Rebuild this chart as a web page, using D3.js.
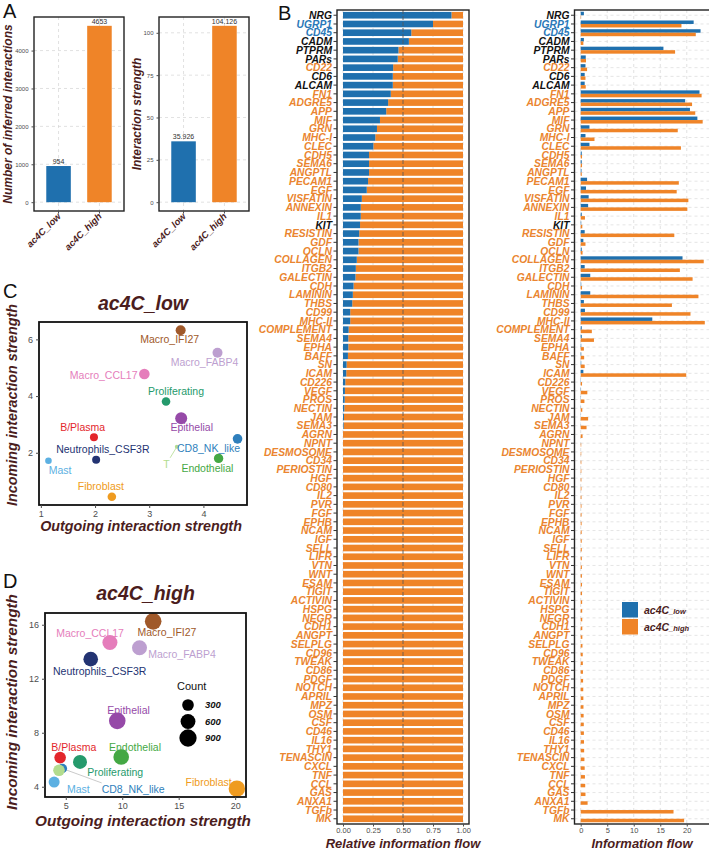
<!DOCTYPE html>
<html>
<head>
<meta charset="utf-8">
<script src="https://cdn.jsdelivr.net/npm/d3@7"></script>
<style>
  body { margin: 0; background: #fff; }
  text { font-family: "Liberation Sans", Arial, sans-serif; }
</style>
</head>
<body>
<svg id="fig" width="709" height="853"></svg>
<script>
//==============================
// DATA
//==============================
const groups = ["ac4C_low", "ac4C_high"];
const interactionCount = [954, 4653];
const interactionStrength = [35.926, 104.126];
const countTicks = [0, 1000, 2000, 3000, 4000];
const strengthTicks = [0, 25, 50, 75, 100];

// cell types for the signaling role scatter plots (C, D)
const cellTypes = ["Macro_IFI27", "Macro_FABP4", "Macro_CCL17", "Proliferating", "Epithelial", "B/Plasma",
  "Neutrophils_CSF3R", "CD8_NK_like", "Mast", "T", "Endothelial", "Fibroblast"];
const cellColors = ["#a0592a", "#bd9fd0", "#e57dbb", "#259a6c", "#964aa8", "#e3262b",
  "#233372", "#2f7fbc", "#5cb0e2", "#b2dc8e", "#44a844", "#ef9b20"];
const lowOutgoing = [3.58, 4.26, 2.91, 3.31, 3.59, 1.98, 2.02, 4.63, 1.14, 3.51, 4.28, 2.31];
const lowIncoming = [6.32, 5.53, 4.78, 3.81, 3.22, 2.55, 1.75, 2.49, 1.72, 2.21, 1.80, 0.45];
const lowCount = [121, 121, 143, 77, 200, 62, 62, 108, 32, 3, 101, 77];
const highOutgoing = [12.74, 11.53, 8.91, 6.26, 9.56, 4.50, 7.21, 4.70, 3.97, 4.40, 9.91, 20.15];
const highIncoming = [16.25, 14.29, 14.68, 5.84, 8.88, 6.16, 13.45, 5.35, 4.35, 5.22, 6.20, 3.86];
const highCount = [810, 615, 620, 510, 805, 295, 575, 150, 250, 295, 690, 785];
const countLegend = [300, 600, 900];
const lowXTicks = [1, 2, 3, 4], lowYTicks = [2, 4, 6];
const highXTicks = [5, 10, 15, 20], highYTicks = [4, 8, 12, 16];

// signaling pathways (B), top to bottom
const pathways = ["NRG", "UGRP1", "CD45", "CADM", "PTPRM", "PARs", "CD22", "CD6", "ALCAM", "FN1",
  "ADGRE5", "APP", "MIF", "GRN", "MHC-I", "CLEC", "CDH5", "SEMA6", "ANGPTL", "PECAM1",
  "EGF", "VISFATIN", "ANNEXIN", "IL1", "KIT", "RESISTIN", "GDF", "OCLN", "COLLAGEN", "ITGB2",
  "GALECTIN", "CDH", "LAMININ", "THBS", "CD99", "MHC-II", "COMPLEMENT", "SEMA4", "EPHA", "BAFF",
  "SN", "ICAM", "CD226", "VEGF", "PROS", "NECTIN", "JAM", "SEMA3", "AGRN", "NPNT",
  "DESMOSOME", "CD34", "PERIOSTIN", "HGF", "CD80", "IL2", "PVR", "FGF", "EPHB", "NCAM",
  "IGF", "SELL", "LIFR", "VTN", "WNT", "ESAM", "TIGIT", "ACTIVIN", "HSPG", "NEGR",
  "CDH1", "ANGPT", "SELPLG", "CD96", "TWEAK", "CD86", "PDGF", "NOTCH", "APRIL", "MPZ",
  "OSM", "CSF", "CD46", "IL16", "THY1", "TENASCIN", "CXCL", "TNF", "CCL", "GAS",
  "ANXA1", "TGFb", "MK"];
// relative information flow of ac4C_low (rest is ac4C_high)
const relFlowLow = [0.904, 0.75, 0.569, 0.549, 0.462, 0.456, 0.418, 0.415, 0.415, 0.398,
  0.376, 0.36, 0.308, 0.283, 0.269, 0.253, 0.217, 0.217, 0.217, 0.209,
  0.198, 0.157, 0.148, 0.148, 0.142, 0.135, 0.129, 0.129, 0.115, 0.107,
  0.104, 0.088, 0.082, 0.077, 0.06, 0.06, 0.047, 0.044, 0.044, 0.041,
  0.03, 0.027, 0.019, 0.016, 0.014, 0.011, 0.008, 0.005, 0, 0,
  0, 0, 0, 0, 0, 0, 0, 0, 0, 0,
  0, 0, 0, 0, 0, 0, 0, 0, 0, 0,
  0, 0, 0, 0, 0, 0, 0, 0, 0, 0,
  0, 0, 0, 0, 0, 0, 0, 0, 0, 0,
  0, 0, 0];
const flowLow = [0.6, 21.3, 22.6, 0.6, 15.6, 0.95, 0.9, 0.75, 0.75, 22.4,
  19.7, 20.6, 22.0, 1.65, 0.9, 1.65, 0.2, 0.2, 0.15, 1.2,
  1.0, 1.5, 1.4, 0.2, 0.1, 0.75, 0.5, 0.2, 19.2, 0.75,
  1.8, 0.1, 1.8, 0.6, 0.8, 13.5, 0.2, 0.2, 0.1, 0.1,
  0.1, 0.5, 0.05, 0.05, 0.05, 0.03, 0.03, 0.02, 0, 0,
  0, 0, 0, 0, 0, 0, 0, 0, 0, 0,
  0, 0, 0, 0, 0, 0, 0, 0, 0, 0,
  0, 0, 0, 0, 0, 0, 0, 0, 0, 0,
  0, 0, 0, 0, 0, 0, 0, 0, 0, 0,
  0, 0, 0];
const flowHigh = [0.07, 19.0, 21.7, 0.5, 17.8, 1.0, 1.2, 0.9, 0.95, 22.8,
  21.0, 21.6, 23.0, 18.3, 2.6, 18.9, 0.25, 0.25, 0.2, 18.5,
  18.1, 20.3, 20.1, 0.8, 0.3, 17.65, 0.9, 0.35, 23.2, 18.7,
  21.1, 0.25, 22.2, 17.2, 20.7, 23.4, 2.1, 2.5, 0.6, 0.65,
  0.75, 19.9, 0.25, 1.25, 0.7, 0.3, 1.4, 1.1, 0.35, 0.1,
  0.1, 0.12, 0.12, 0.13, 0.14, 0.15, 0.15, 0.16, 0.17, 0.18,
  0.19, 0.2, 0.21, 0.22, 0.23, 0.24, 0.25, 0.27, 0.28, 0.29,
  0.3, 0.31, 0.33, 0.38, 0.4, 0.42, 0.45, 0.48, 0.5, 0.52,
  0.55, 0.58, 0.6, 0.62, 0.65, 0.7, 0.75, 0.8, 0.85, 0.9,
  1.3, 17.5, 19.5];
const relTicks = [0, 0.25, 0.5, 0.75, 1];
const flowTicks = [0, 5, 10, 15, 20];
const enrichedLow = ["UGRP1", "CD45"];
const notSignificant = ["NRG", "CADM", "PTPRM", "PARs", "CD6", "ALCAM", "KIT"];

//==============================
// STYLE / LAYOUT
//==============================
const titleColor = "#4b1d1d";
const tickColor = "#4d4d4d";
const gridColor = "#d4d4d4";
const lowColor = "#1f70ae", highColor = "#ef8428";
const lowLabelColor = "#2a78b8", highLabelColor = "#ea8530";

// ggrepel-like label shifts [dx, dy] from each point (center x, baseline y)
const labelShiftLow = [[-11, 13], [-13, 13.3], [-40.7, 5], [10, -6.3], [10.5, 13], [-11.3, -6],
  [6.7, -7.3], [-29, 13.3], [11.7, 13.7], [-10.5, 21], [-11.2, 13.3], [-11, -6.7]];
const labelShiftHigh = [[13.8, 15], [42.5, 10.3], [-19.8, -5.4], [35.2, 13.6], [11.3, -6.4], [13.7, -6.3],
  [9, 15.7], [70.8, 24.4], [24.2, 11], null, [13.8, -6], [-28.2, -3]];

const svg = d3.select("#fig");

const panelLetter = (t, x, y) => {
  svg.append("text").attr("x", x).attr("y", y)
    .style("font-size", "20px").attr("fill", "#111").text(t);
};

const boldItalic = (sel, size, color) =>
  sel.style("font-size", size + "px").style("font-weight", "bold")
    .style("font-style", "italic").attr("fill", color);

//==============================
// A : summary bars
//==============================
const summaryBar = (values, ticks, box, yTitle, titleX) => {
  const g = svg.append("g");
  const x = d3.scalePoint().domain(groups).range([box.left, box.right]).padding(0.6);
  const vmax = d3.max(values);
  const y = d3.scaleLinear().domain([-0.05 * vmax, 1.05 * vmax]).range([box.bottom, box.top]);
  const bw = x.step() * 0.6;

  // dashed grid
  g.selectAll("line.hg").data(ticks).join("line").attr("class", "hg")
    .attr("x1", box.left).attr("x2", box.right)
    .attr("y1", d => y(d)).attr("y2", d => y(d))
    .attr("stroke", gridColor).attr("stroke-width", 0.7).attr("stroke-dasharray", "3,3");
  g.selectAll("line.vg").data(groups).join("line").attr("class", "vg")
    .attr("x1", d => x(d)).attr("x2", d => x(d))
    .attr("y1", box.top).attr("y2", box.bottom)
    .attr("stroke", gridColor).attr("stroke-width", 0.7).attr("stroke-dasharray", "3,3");

  g.selectAll("rect.bar").data(values).join("rect").attr("class", "bar")
    .attr("x", (d, i) => x(groups[i]) - bw / 2).attr("width", bw)
    .attr("y", d => y(d)).attr("height", d => y(0) - y(d))
    .attr("fill", (d, i) => i === 0 ? lowColor : highColor);

  g.selectAll("text.val").data(values).join("text").attr("class", "val")
    .attr("x", (d, i) => x(groups[i])).attr("y", d => y(d) - 2)
    .attr("text-anchor", "middle").style("font-size", "7px").attr("fill", "#333")
    .text(d => String(d));

  g.append("rect").attr("x", box.left).attr("y", box.top)
    .attr("width", box.right - box.left).attr("height", box.bottom - box.top)
    .attr("fill", "none").attr("stroke", "#222").attr("stroke-width", 1.4);

  const ay = g.append("g").attr("transform", `translate(${box.left},0)`)
    .call(d3.axisLeft(y).tickValues(ticks).tickFormat(d3.format("d")).tickSize(2.5).tickSizeOuter(0));
  ay.select(".domain").remove();
  ay.selectAll("line").attr("stroke", tickColor);
  ay.selectAll("text").style("font-size", "6px").attr("fill", tickColor);

  // rotated group labels
  groups.forEach(gr => {
    g.append("line").attr("x1", x(gr)).attr("x2", x(gr))
      .attr("y1", box.bottom).attr("y2", box.bottom + 2.5).attr("stroke", tickColor);
    boldItalic(g.append("text"), 9.5, titleColor)
      .attr("text-anchor", "end")
      .attr("transform", `translate(${x(gr) + 3},${box.bottom + 6}) rotate(-45)`)
      .text(gr);
  });

  boldItalic(g.append("text"), 12, titleColor)
    .attr("text-anchor", "middle")
    .attr("transform", `translate(${titleX},${(box.top + box.bottom) / 2}) rotate(-90)`)
    .text(yTitle);
};

//==============================
// C, D : signaling role scatter
//==============================
const expandExtent = arr => {
  const [lo, hi] = d3.extent(arr);
  const e = (hi - lo) * 0.05;
  return [lo - e, hi + e];
};

const scatterPanel = (o) => {
  const g = svg.append("g");
  const x = d3.scaleLinear().domain(expandExtent(o.out)).range([o.box.left, o.box.right]);
  const y = d3.scaleLinear().domain(expandExtent(o.inc)).range([o.box.bottom, o.box.top]);

  const pts = cellTypes.map((c, i) => ({
    name: c, color: cellColors[i], px: x(o.out[i]), py: y(o.inc[i]),
    r: o.rScale(o.count[i]), shift: o.shift[i]
  }));

  g.selectAll("circle.pt").data(pts).join("circle").attr("class", "pt")
    .attr("cx", d => d.px).attr("cy", d => d.py).attr("r", d => d.r)
    .attr("fill", d => d.color);

  pts.forEach(d => {
    if (!d.shift) return;
    const t = g.append("text")
      .attr("x", d.px + d.shift[0]).attr("y", d.py + d.shift[1])
      .attr("text-anchor", "middle").style("font-size", "10.5px")
      .attr("fill", d.color).text(d.name);
    if (o.segments.includes(d.name)) {
      const b = t.node().getBBox();
      const cx = Math.max(b.x, Math.min(d.px, b.x + b.width));
      const cy = Math.max(b.y, Math.min(d.py, b.y + b.height));
      const seg = o.segColor || d.color;
      g.insert("line", "circle").attr("x1", d.px).attr("y1", d.py).attr("x2", cx).attr("y2", cy)
        .attr("stroke", seg).attr("stroke-width", 0.8);
    }
  });

  g.append("rect").attr("x", o.box.left).attr("y", o.box.top)
    .attr("width", o.box.right - o.box.left).attr("height", o.box.bottom - o.box.top)
    .attr("fill", "none").attr("stroke", "#111").attr("stroke-width", 1.8);

  const ax = g.append("g").attr("transform", `translate(0,${o.box.bottom})`)
    .call(d3.axisBottom(x).tickValues(o.xTicks).tickFormat(d3.format("d")).tickSize(3).tickSizeOuter(0));
  const ay = g.append("g").attr("transform", `translate(${o.box.left},0)`)
    .call(d3.axisLeft(y).tickValues(o.yTicks).tickFormat(d3.format("d")).tickSize(3).tickSizeOuter(0));
  [ax, ay].forEach(a => {
    a.select(".domain").remove();
    a.selectAll("line").attr("stroke", tickColor);
    a.selectAll("text").style("font-size", "9px").attr("fill", tickColor);
  });

  boldItalic(g.append("text"), 19.5, titleColor)
    .attr("x", (o.box.left + o.box.right) / 2).attr("y", o.titleY)
    .attr("text-anchor", "middle").text(o.title);
  boldItalic(g.append("text"), o.axisFont, titleColor)
    .attr("x", o.xTitle[0]).attr("y", o.xTitle[1])
    .attr("text-anchor", "middle").text("Outgoing interaction strength");
  boldItalic(g.append("text"), o.axisFont, titleColor)
    .attr("text-anchor", "middle")
    .attr("transform", `translate(${o.yTitle[0]},${o.yTitle[1]}) rotate(-90)`)
    .text("Incoming interaction strength");
  return g;
};

//==============================
// B : information flow
//==============================
const labelColor = p => enrichedLow.includes(p) ? lowLabelColor
  : (notSignificant.includes(p) ? "#111" : highLabelColor);

const pathwayAxis = (g, yB, left) => {
  pathways.forEach(p => {
    g.append("line").attr("x1", left - 3.5).attr("x2", left)
      .attr("y1", yB(p)).attr("y2", yB(p)).attr("stroke", "#333");
  });
  g.selectAll("text.pw").data(pathways).join("text").attr("class", "pw")
    .attr("x", left - 5).attr("y", d => yB(d)).attr("dy", "0.36em")
    .attr("text-anchor", "end")
    .style("font-size", "10.3px").style("font-weight", "bold").style("font-style", "italic")
    .attr("fill", d => labelColor(d))
    .text(d => d);
};

const drawFlow = () => {
  const top = 10, bottom = 824;
  const yB = d3.scalePoint().domain(pathways).range([top, bottom]).padding(0.6);
  const step = yB.step();

  // ---- relative information flow ----
  const gl = svg.append("g");
  const boxL = { left: 337, right: 469 };
  const xRel = d3.scaleLinear().domain([-0.05, 1.05]).range([boxL.left, boxL.right]);
  gl.selectAll("line.vg").data(relTicks).join("line").attr("class", "vg")
    .attr("x1", d => xRel(d)).attr("x2", d => xRel(d)).attr("y1", top).attr("y2", bottom)
    .attr("stroke", gridColor).attr("stroke-width", 0.7).attr("stroke-dasharray", "3,3");
  const bh = step * 0.76;
  gl.selectAll("rect.hi").data(pathways).join("rect").attr("class", "hi")
    .attr("x", (d, i) => xRel(relFlowLow[i])).attr("width", (d, i) => xRel(1) - xRel(relFlowLow[i]))
    .attr("y", d => yB(d) - bh / 2).attr("height", bh).attr("fill", highColor);
  gl.selectAll("rect.lo").data(pathways).join("rect").attr("class", "lo")
    .attr("x", xRel(0)).attr("width", (d, i) => xRel(relFlowLow[i]) - xRel(0))
    .attr("y", d => yB(d) - bh / 2).attr("height", bh).attr("fill", lowColor);
  gl.append("line").attr("x1", xRel(0.5)).attr("x2", xRel(0.5)).attr("y1", top).attr("y2", bottom)
    .attr("stroke", "#555").attr("stroke-width", 0.8).attr("stroke-dasharray", "4,2");
  gl.append("rect").attr("x", boxL.left).attr("y", top)
    .attr("width", boxL.right - boxL.left).attr("height", bottom - top)
    .attr("fill", "none").attr("stroke", "#222").attr("stroke-width", 1.4);
  pathwayAxis(gl, yB, boxL.left);
  const axL = gl.append("g").attr("transform", `translate(0,${bottom})`)
    .call(d3.axisBottom(xRel).tickValues(relTicks).tickFormat(d3.format(".2f"))
      .tickSize(2.5).tickPadding(1.5).tickSizeOuter(0));
  axL.select(".domain").remove();
  axL.selectAll("line").attr("stroke", tickColor);
  axL.selectAll("text").style("font-size", "7.5px").attr("fill", tickColor);
  boldItalic(gl.append("text"), 13, titleColor)
    .attr("x", (boxL.left + boxL.right) / 2).attr("y", 848)
    .attr("text-anchor", "middle").text("Relative information flow");

  // ---- absolute information flow ----
  const gr = svg.append("g");
  const boxR = { left: 574.5, right: 711 };
  const fmax = d3.max(flowLow.concat(flowHigh));
  const xFlow = d3.scaleLinear().domain([-0.05 * fmax, 1.05 * fmax]).range([boxR.left, boxR.right]);
  gr.selectAll("line.hg").data(pathways).join("line").attr("class", "hg")
    .attr("x1", boxR.left).attr("x2", boxR.right).attr("y1", d => yB(d)).attr("y2", d => yB(d))
    .attr("stroke", gridColor).attr("stroke-width", 0.6).attr("stroke-dasharray", "3,3");
  gr.selectAll("line.vg").data(flowTicks).join("line").attr("class", "vg")
    .attr("x1", d => xFlow(d)).attr("x2", d => xFlow(d)).attr("y1", top).attr("y2", bottom)
    .attr("stroke", gridColor).attr("stroke-width", 0.7).attr("stroke-dasharray", "3,3");
  const dh = step * 0.4;
  gr.selectAll("rect.lo").data(pathways).join("rect").attr("class", "lo")
    .attr("x", xFlow(0)).attr("width", (d, i) => xFlow(flowLow[i]) - xFlow(0))
    .attr("y", d => yB(d) - dh).attr("height", dh).attr("fill", lowColor);
  gr.selectAll("rect.hi").data(pathways).join("rect").attr("class", "hi")
    .attr("x", xFlow(0)).attr("width", (d, i) => xFlow(flowHigh[i]) - xFlow(0))
    .attr("y", d => yB(d)).attr("height", dh).attr("fill", highColor);
  gr.append("rect").attr("x", boxR.left).attr("y", top)
    .attr("width", boxR.right - boxR.left).attr("height", bottom - top)
    .attr("fill", "none").attr("stroke", "#222").attr("stroke-width", 1.4);
  pathwayAxis(gr, yB, boxR.left);
  const axR = gr.append("g").attr("transform", `translate(0,${bottom})`)
    .call(d3.axisBottom(xFlow).tickValues(flowTicks).tickFormat(d3.format("d"))
      .tickSize(2.5).tickPadding(1.5).tickSizeOuter(0));
  axR.select(".domain").remove();
  axR.selectAll("line").attr("stroke", tickColor);
  axR.selectAll("text").style("font-size", "7.5px").attr("fill", tickColor);
  boldItalic(gr.append("text"), 13, titleColor)
    .attr("x", 642).attr("y", 848)
    .attr("text-anchor", "middle").text("Information flow");

  // legend
  const lg = gr.append("g").attr("transform", "translate(622,602)");
  groups.forEach((grp, i) => {
    lg.append("rect").attr("x", 0).attr("y", i * 17).attr("width", 16).attr("height", 15.5)
      .attr("fill", i === 0 ? lowColor : highColor);
    const t = boldItalic(lg.append("text"), 10.5, titleColor).attr("x", 22).attr("y", i * 17 + 12);
    const parts = grp.split("_");
    t.append("tspan").text(parts[0]);
    t.append("tspan").style("font-size", "7.5px").text("_" + parts[1]);
  });
};

//==============================
// DRAW
//==============================
panelLetter("A", 3, 18);
summaryBar(interactionCount, countTicks, { left: 34, right: 124, top: 17, bottom: 211 },
  "Number of inferred interactions", 12);
summaryBar(interactionStrength, strengthTicks, { left: 159, right: 249, top: 17, bottom: 211 },
  "Interaction strength", 141);

panelLetter("C", 3, 298);
scatterPanel({
  box: { left: 39, right: 247, top: 322, bottom: 505 },
  out: lowOutgoing, inc: lowIncoming, count: lowCount,
  rScale: d3.scaleSqrt().domain([0, 200]).range([1.5, 6]),
  shift: labelShiftLow, segments: ["T"],
  xTicks: lowXTicks, yTicks: lowYTicks,
  title: "ac4C_low", titleY: 310, axisFont: 14.3,
  xTitle: [141, 531], yTitle: [17, 405]
});

panelLetter("D", 3, 588);
const rHigh = d3.scaleSqrt().domain([0, 1000]).range([2, 9]);
const gD = scatterPanel({
  box: { left: 45, right: 246, top: 613, bottom: 797 },
  out: highOutgoing, inc: highIncoming, count: highCount,
  rScale: rHigh,
  shift: labelShiftHigh, segments: ["CD8_NK_like"], segColor: "#bdbdbd",
  xTicks: highXTicks, yTicks: highYTicks,
  title: "ac4C_high", titleY: 600, axisFont: 15.3,
  xTitle: [143, 826], yTitle: [17, 702]
});
// Count legend
const cl = gD.append("g").attr("transform", "translate(177,690)");
cl.append("text").attr("x", 0).attr("y", 0).style("font-size", "11px").attr("fill", "#111").text("Count");
countLegend.forEach((c, i) => {
  const cy = 15 + i * 16.5;
  cl.append("circle").attr("cx", 11).attr("cy", cy).attr("r", rHigh(c)).attr("fill", "#000");
  boldItalic(cl.append("text"), 9.5, "#111").attr("x", 28).attr("y", cy).attr("dy", "0.35em").text(c);
});

panelLetter("B", 278, 19.5);
drawFlow();
</script>
</body>
</html>
